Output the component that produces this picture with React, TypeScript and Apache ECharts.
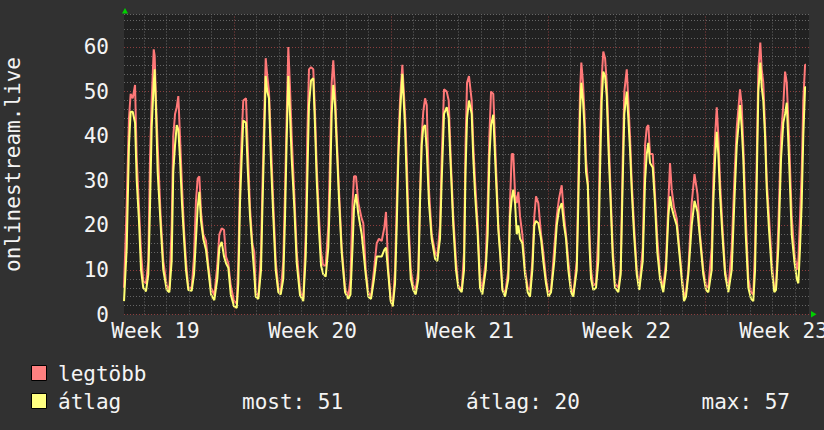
import React, { useEffect, useRef } from 'react';
import * as echarts from 'echarts';

// time axis: hours since midnight of the first (partial) day
const times = [
  2.3, 5.2, 7.6, 9.4, 11.6, 14.1, 15.9, 18.3, 20.5, 22.9, 25.8,
  28.3, 30.1, 31.9, 34.1, 35.1, 36.5, 38.3, 41.5, 44.3, 48.0, 50.8,
  53.3, 55.0, 56.9, 58.7, 60.4, 62.2, 64.3, 66.5, 68.6, 71.1, 74.7,
  77.2, 79.3, 81.1, 82.9, 84.7, 87.1, 90.0, 92.5, 95.4, 98.9,
  102.1, 104.3, 106.8, 109.3, 111.4, 113.9, 116.5, 120.0, 122.9,
  124.6, 126.4, 128.2, 129.9, 132.8, 134.6, 137.1, 139.6, 141.7, 143.2, 146.0,
  148.9, 150.3, 152.1, 153.9, 155.6, 157.4, 159.6, 162.0, 164.6, 167.4, 170.0,
  172.7, 174.6, 176.4, 178.1, 179.9, 181.7, 184.5, 187.1, 190.6, 194.1,
  196.7, 198.4, 200.2, 202.4, 204.8, 206.7, 208.5, 210.9, 213.1, 215.5, 218.1,
  220.9, 222.7, 224.5, 226.2, 228.1, 229.9, 232.3, 235.2, 238.8, 242.3,
  244.6, 246.8, 248.4, 250.5, 253.0, 256.6, 258.3, 260.9, 263.7, 266.6,
  269.8, 272.7, 275.1, 278.0, 280.8, 282.6, 285.1, 287.6, 289.8,
  292.3, 294.1, 295.8, 297.6, 300.1, 303.0, 304.8, 306.5, 309.1, 311.8, 314.4,
  317.2, 319.0, 320.8, 322.5, 324.4, 326.2, 328.6, 331.5, 335.1, 337.5,
  340.4, 342.2, 344.7, 347.6, 349.7, 351.9, 354.6, 357.5, 360.0, 363.6,
  366.1, 367.7, 369.3, 371.4, 374.3, 376.0, 377.9, 380.7, 383.2, 385.7,
  389.3, 391.4, 393.2, 395.0, 397.4, 400.0, 402.8, 404.9, 407.1, 410.0,
  413.5, 415.3, 417.1, 418.8, 420.7, 422.5, 424.2, 426.0, 428.5, 431.4, 434.2, 436.7,
  439.2, 441.3, 443.1, 445.6, 448.5, 450.9, 453.8, 456.3, 459.2,
  462.7, 465.3, 467.7, 470.6, 473.1, 475.2, 477.7, 480.6, 483.0,
  486.7, 488.4, 490.2, 491.6, 493.4, 495.0, 496.6, 498.5, 500.4, 502.0, 504.4, 507.3,
  509.8, 511.6, 513.4, 515.1, 517.0, 518.8, 520.5, 523.0, 525.2, 527.6, 531.2,
  533.7, 535.9, 537.6, 540.2, 541.9, 543.7, 545.5, 548.0, 550.9, 553.6,
  557.3, 559.8, 561.6, 563.3, 565.1, 568.0, 570.4, 572.9, 575.8, 579.3,
  582.2, 584.7, 586.5, 588.3, 590.8, 593.7, 596.4, 599.0, 601.5, 603.6,
  606.1, 609.7, 612.7, 615.9, 618.6, 622.1, 625.0, 627.5,
  631.1, 632.8, 634.7, 636.5, 638.2, 640.0, 642.5, 645.4, 648.9,
  652.5, 655.3, 657.9, 659.6, 661.4, 663.2, 664.9, 667.5, 670.3, 673.2, 675.6,
  677.5, 679.3, 681.0, 683.1, 684.6, 686.3, 688.2, 690.0, 692.4, 695.3, 698.1, 699.9,
  702.4, 705.3, 707.7, 709.6, 711.4, 713.8, 716.7, 719.5, 722.1, 723.8, 725.6, 727.4, 729.1, 731.0, 732.0,
];

const maxValues = [
  6, 25, 44, 49.5, 48.5, 51.5, 35, 24, 14, 7.5, 7,
  12, 35, 48, 59.5, 58, 48, 38, 22, 12, 6.5, 5.5,
  20, 40, 45, 46.5, 49, 40, 29, 19, 12, 6, 6,
  13, 25.5, 30.5, 31, 23, 18, 16.5, 11, 6, 4.3,
  11, 18, 19.3, 19, 13, 11.5, 6.5, 3, 2.5,
  12, 30, 40, 48, 48.5, 38, 24, 16, 14, 5, 4,
  14, 28, 43, 57.5, 53.5, 50, 38, 25, 12, 6, 5,
  12, 28, 45, 60, 51, 40, 27, 14, 5.5, 3.5,
  18, 40, 55, 55.5, 55, 45, 33, 22, 14, 11, 11,
  20, 35, 52, 57, 50, 40, 28, 15, 6, 4,
  8, 25, 31, 31, 25, 21.5, 20.5, 10, 5, 4,
  10, 16, 17, 16.5, 19.5, 23, 10, 3.5, 2,
  10, 25, 38, 48, 56, 45, 35, 22, 10, 6.5, 5.5,
  10, 27, 40, 45.5, 48.5, 47, 28, 18, 14, 13,
  20, 35, 50.5, 50, 48, 35, 22, 12, 6.5, 5.5,
  14, 38, 52, 53.5, 48, 38, 30, 20, 8, 5.5,
  12, 25, 40, 50, 49.5, 35, 20, 14, 6, 4.5,
  10, 25, 36, 36, 27, 25, 27.5, 22, 18, 10, 6, 5.5,
  12, 22, 26.5, 25, 18, 14, 8, 5, 5.5,
  15, 22, 26, 29, 22, 18, 12, 6, 4.5,
  12, 30, 50, 56.5, 52, 45, 35, 30, 18, 10, 6.5, 7,
  18, 40, 53, 59, 57.5, 52, 42, 27, 15, 7, 6,
  10, 35, 50, 55, 48, 40, 30, 20, 10, 6,
  15, 38, 42, 42.5, 36, 36, 27, 17, 9, 6,
  12, 25, 34, 28, 24, 21.5, 15, 9, 4, 5,
  10, 25, 31.5, 27, 18, 10, 6.5, 6,
  15, 30, 40, 46.5, 40, 30, 20, 10, 5.5,
  15, 30, 42, 46, 50.5, 47, 38, 22, 8, 5, 4.5,
  15, 35, 55, 61, 55, 52, 42, 30, 22, 12, 5.5, 6,
  20, 40, 47, 54.5, 52, 40, 22, 14, 10, 12, 22, 32, 48, 56, 56,
];

const avgValues = [
  3, 15, 38, 45.5, 45.5, 43, 30, 21, 10, 6, 5.2,
  9, 24, 42, 52, 55, 46, 32, 20, 10, 5.5, 5,
  12, 32, 38, 42.5, 41.5, 35, 25, 17, 10, 5.5, 5.3,
  9, 17, 24, 27.5, 21, 17, 14.5, 10, 4.5, 3.2,
  8, 15, 16.3, 13, 11.5, 10.5, 4.5, 1.8, 1.5,
  7, 25, 35, 43.5, 43, 33, 22, 14.8, 9, 4, 3.5,
  10, 23, 38, 53.5, 50, 48.5, 34, 22, 10, 5, 4.5,
  8, 22, 40, 53.5, 45, 35, 24, 11.5, 4.3, 3,
  13, 30, 47, 52.5, 53, 42, 30, 19, 11, 9, 8.5,
  15, 28, 45, 51.5, 47, 38, 26, 14, 5, 3.5,
  4.5, 15, 24, 27, 22.5, 18, 14.5, 9, 4, 3.5,
  8, 13, 13, 13, 14.5, 15, 9, 3, 1.8,
  7, 20, 35, 45, 54, 42, 30, 19, 8, 5.5, 4.5,
  8, 25, 38, 42, 42.5, 37, 25, 17, 12.5, 12,
  17, 30, 45, 46.5, 44, 33, 20, 10, 6, 5,
  10, 32, 44, 48, 45, 35, 27, 18, 6, 4.5,
  10, 18, 35, 42.5, 44.8, 32, 19, 13, 5.5, 4,
  8, 22, 26, 28, 25, 18, 20, 17, 16, 9, 5, 4,
  10, 20, 21, 20.5, 17, 12, 7, 4, 5,
  12, 20, 23.5, 25, 20, 17, 10, 5, 4,
  10, 25, 45, 52, 48, 42, 32, 29, 15, 8, 5.5, 6,
  12, 32, 48, 54.5, 53.5, 49, 38, 25, 13, 6, 5,
  9, 30, 45, 50, 44, 37, 28, 18, 9, 5.5,
  12, 30, 36, 38.5, 34, 33, 25, 14, 8, 5,
  10, 22, 26.5, 24, 22, 20, 14, 8, 3, 4,
  9, 20, 25.5, 23, 17, 9, 5.5, 5,
  10, 25, 35, 41, 36, 27, 18, 9, 5,
  10, 25, 38, 42, 47, 42, 35, 18, 6, 3.5, 3,
  10, 30, 50, 56.5, 51, 48, 40, 28, 19, 10, 5, 5.5,
  15, 35, 43, 45, 47.5, 35, 18, 12, 8, 7, 15, 25, 40, 51, 51,
];

const weekNumbers = [19, 20, 21, 22, 23];
const weekLabelHours = [36, 204, 372, 540, 708];
const weekLineHours = [120, 288, 456, 624];
const dayLineHours = [
  24, 48, 72, 96, 144, 168, 192, 216, 240, 264, 312, 336, 360, 384, 408, 432,
  480, 504, 528, 552, 576, 600, 648, 672, 696, 720,
];

const legendItems = ['legtöbb', 'átlag'];
const statLabels = ['most: 51', 'átlag: 20', 'max: 57'];

const FONT = "'DejaVu Sans Mono', monospace";
const TEXT = '#f4f4f4';
const RED = '#ff7878';
const YELLOW = '#ffff72';
const MINOR = '#666666';
const MAJOR = '#8c3e3e';
const DASH = [1, 2];

export default function App() {
  const ref = useRef<HTMLDivElement>(null);
  useEffect(() => {
    if (!ref.current) return;
    const chart = echarts.init(ref.current, null, { renderer: 'svg' });
    const n = Math.min(times.length, maxValues.length, avgValues.length);
    const maxData = [] as any[];
    const avgData = [] as any[];
    for (let i = 0; i < n; i++) {
      maxData.push([times[i], maxValues[i]]);
      avgData.push([times[i], avgValues[i]]);
    }
    const vLines = [
      ...dayLineHours.map((h) => ({ xAxis: h, lineStyle: { color: MINOR, type: DASH, width: 1 } })),
      ...weekLineHours.map((h) => ({ xAxis: h, lineStyle: { color: MAJOR, type: DASH, width: 1 } })),
    ];
    const option: any = {
      animation: false,
      backgroundColor: '#313131',
      grid: {
        left: 124, right: 15, top: 14.5, bottom: 115.5,
        show: true, backgroundColor: '#212121', borderWidth: 0,
        containLabel: false, outerBoundsMode: 'none',
      },
      xAxis: {
        type: 'value', min: 2.28, max: 735.2,
        axisLine: { show: false }, axisTick: { show: false }, splitLine: { show: false },
        axisLabel: {
          customValues: weekLabelHours,
          formatter: (v: number) => {
            const i = weekLabelHours.indexOf(v);
            return i >= 0 ? 'Week ' + weekNumbers[i] : '';
          },
          color: TEXT, fontFamily: FONT, fontSize: 21, margin: 6,
        },
      },
      yAxis: {
        type: 'value', min: 0, max: 67.3, interval: 2,
        axisLine: { show: false }, axisTick: { show: false },
        axisLabel: {
          formatter: (v: number) => (Math.abs(v % 10) < 1e-6 ? String(v) : ''),
          color: TEXT, fontFamily: FONT, fontSize: 21, margin: 15,
        },
        splitLine: {
          show: true,
          lineStyle: { color: [MAJOR, MINOR, MINOR, MINOR, MINOR], type: DASH, width: 1 },
        },
      },
      series: [
        {
          type: 'line', data: [], z: 1, silent: true,
          markLine: {
            silent: true, symbol: ['none', 'none'], label: { show: false },
            emphasis: { disabled: true }, data: vLines,
          },
        },
        {
          name: legendItems[0], type: 'line', data: maxData, showSymbol: false, symbol: 'none',
          lineStyle: { color: RED, width: 2 }, z: 3, silent: true,
        },
        {
          name: legendItems[1], type: 'line', data: avgData, showSymbol: false, symbol: 'none',
          lineStyle: { color: YELLOW, width: 2 }, z: 4, silent: true,
        },
      ],
      graphic: [
        { type: 'polygon', shape: { points: [[122, 13.5], [128, 13.5], [125, 8]] }, style: { fill: '#00d000' } },
        { type: 'polygon', shape: { points: [[811, 311], [811, 317.5], [816.5, 314.2]] }, style: { fill: '#00d000' } },
        {
          type: 'text', x: 13, y: 164.5, rotation: Math.PI / 2,
          style: { text: 'onlinestream.live', fill: TEXT, fontFamily: FONT, fontSize: 21, align: 'center', verticalAlign: 'middle' },
        },
        { type: 'rect', shape: { x: 31.5, y: 365.5, width: 15, height: 15 }, style: { fill: '#ff8080', stroke: '#000', lineWidth: 1 } },
        { type: 'rect', shape: { x: 31.5, y: 393.5, width: 15, height: 15 }, style: { fill: '#ffff80', stroke: '#000', lineWidth: 1 } },
        { type: 'text', x: 58, y: 373.5, style: { text: legendItems[0], fill: TEXT, fontFamily: FONT, fontSize: 21, verticalAlign: 'middle' } },
        { type: 'text', x: 58, y: 401.5, style: { text: legendItems[1], fill: TEXT, fontFamily: FONT, fontSize: 21, verticalAlign: 'middle' } },
        { type: 'text', x: 242, y: 401.5, style: { text: statLabels[0], fill: TEXT, fontFamily: FONT, fontSize: 21, verticalAlign: 'middle' } },
        { type: 'text', x: 466, y: 401.5, style: { text: statLabels[1], fill: TEXT, fontFamily: FONT, fontSize: 21, verticalAlign: 'middle' } },
        { type: 'text', x: 701.5, y: 401.5, style: { text: statLabels[2], fill: TEXT, fontFamily: FONT, fontSize: 21, verticalAlign: 'middle' } },
      ],
    };
    chart.setOption(option);
    return () => chart.dispose();
  }, []);
  return <div ref={ref} style={{ position: 'fixed', left: 0, top: 0, width: 824, height: 430 }} />;
}
